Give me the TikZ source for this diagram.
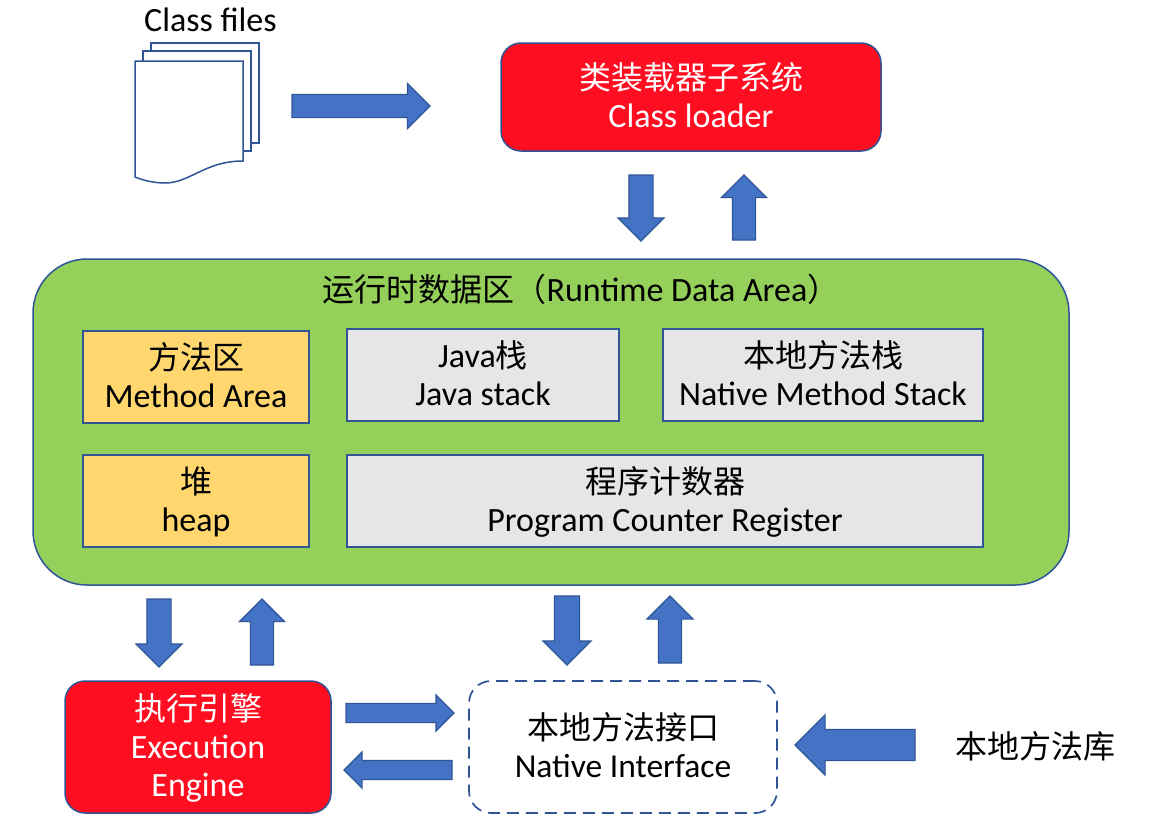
\documentclass[tikz,border=0pt]{standalone}
\usepackage{fontspec}
\setmainfont{Carlito}
\newfontfamily\cjk{Noto Sans CJK SC}
\usetikzlibrary{shapes.arrows}
\definecolor{edgeblue}{HTML}{2F5597}
\definecolor{flowblue}{HTML}{4472C4}
\definecolor{loaderred}{HTML}{FF0D20}
\definecolor{areagreen}{HTML}{95D05B}
\definecolor{heapyellow}{HTML}{FFD76E}
\definecolor{stackgray}{HTML}{E6E6E6}
\tikzset{
	box/.style={draw=edgeblue, line width=1.5pt, align=center, inner sep=0pt, outer sep=0pt, text height=68pt, text depth=8pt, font=\fontsize{34}{38}\selectfont},
	redbox/.style={box, rounded corners=20pt, fill=loaderred, text=white},
	yellowbox/.style={box, fill=heapyellow},
	graybox/.style={box, fill=stackgray},
	page/.style={draw=edgeblue, line width=1.5pt, fill=white},
	plain/.style={align=center, inner sep=0pt, font=\fontsize{34}{38}\selectfont},
	flow/.style 2 args={single arrow, draw=edgeblue, fill=flowblue, line width=1.2pt, inner xsep=0pt, inner ysep=#1, outer sep=0pt, text width=0pt, text height=0pt, text depth=0pt, single arrow head extend=#2, anchor=tip}
}
\begin{document}
\begin{tikzpicture}[x=1pt, y=-1pt]
	\useasboundingbox (0,0) rectangle (1150,838);

	\node[plain] (classfiles) at (210.5,20) {Class files};
	\draw[page] (151,43) rectangle (259,143);
	\draw[page] (143,51) rectangle (251,151);
	\draw[page] (135,61) -- (243,61) -- (243,161) .. controls (205,161) and (190,183) .. (165,183) .. controls (155,183) and (145,181) .. (135,177) -- cycle;

	\node[redbox, minimum width=380pt, minimum height=108pt] (loader) at (691,97) {{\cjk\fontsize{32}{38}\selectfont 类装载器子系统}\\Class loader};

	\node[box, text height=0pt, text depth=0pt, rounded corners=54pt, fill=areagreen, minimum width=1036pt, minimum height=326pt] (area) at (551,422) {};
	\node[plain] (areatitle) at (581,289) {{\cjk\fontsize{32}{38}\selectfont 运行时数据区（}Runtime Data Area{\cjk\fontsize{32}{38}\selectfont ）}};

	\node[yellowbox, minimum width=226pt, minimum height=92pt] (method) at (196,377) {{\cjk\fontsize{32}{38}\selectfont 方法区}\\Method Area};
	\node[graybox, minimum width=272pt, minimum height=92pt] (javastack) at (483,375) {Java{\cjk\fontsize{32}{38}\selectfont 栈}\\Java stack};
	\node[graybox, minimum width=320pt, minimum height=92pt] (nativestack) at (823,375) {{\cjk\fontsize{32}{38}\selectfont 本地方法栈}\\Native Method Stack};
	\node[yellowbox, minimum width=226pt, minimum height=92pt] (heap) at (196,501) {{\cjk\fontsize{32}{38}\selectfont 堆}\\heap};
	\node[graybox, minimum width=636pt, minimum height=92pt] (counter) at (665,501) {{\cjk\fontsize{32}{38}\selectfont 程序计数器}\\Program Counter Register};

	\node[redbox, text height=106pt, minimum width=266pt, minimum height=132pt] (engine) at (198,747) {{\cjk\fontsize{32}{38}\selectfont 执行引擎}\\Execution\\Engine};
	\node[box, dashed, dash pattern=on 12pt off 7pt, line width=1.7pt, rounded corners=22pt, minimum width=308pt, minimum height=132pt] (interface) at (623,747) {{\cjk\fontsize{32}{38}\selectfont 本地方法接口}\\\fontsize{33.5}{38}\selectfont Native Interface};
	\node[plain] (library) at (1035,746) {{\cjk\fontsize{32}{38}\selectfont 本地方法库}};

	\node[flow={11pt}{11pt}, minimum height=138pt] (a1) at (430,106) {};
	\node[flow={11.5pt}{11pt}, minimum height=66pt, rotate=-90] (a2) at (641,241) {};
	\node[flow={11pt}{11pt}, minimum height=65pt, rotate=90] (a3) at (744,175) {};
	\node[flow={11.5pt}{11pt}, minimum height=68pt, rotate=-90] (a4) at (159,667) {};
	\node[flow={11pt}{11pt}, minimum height=66pt, rotate=90] (a5) at (262,599) {};
	\node[flow={12pt}{11.5pt}, minimum height=69pt, rotate=-90] (a6) at (567,665) {};
	\node[flow={11pt}{11.5pt}, minimum height=67pt, rotate=90] (a7) at (670,596) {};
	\node[flow={9pt}{8.5pt}, minimum height=108pt] (a8) at (454,713) {};
	\node[flow={9pt}{8.5pt}, minimum height=108pt, rotate=180] (a9) at (344,770) {};
	\node[flow={15pt}{14.5pt}, minimum height=120pt, rotate=180] (a10) at (795,745) {};
\end{tikzpicture}
\end{document}
